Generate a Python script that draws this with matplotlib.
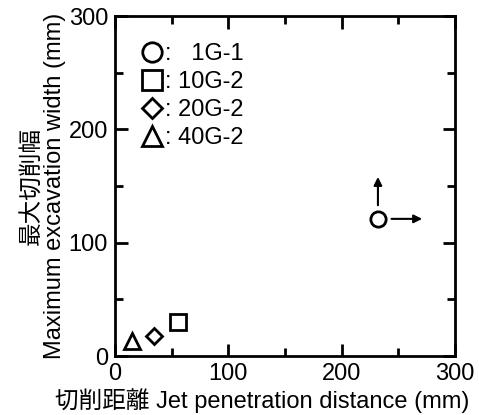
import matplotlib
matplotlib.use("Agg")
import matplotlib.pyplot as plt
from matplotlib.lines import Line2D
from matplotlib.ticker import MultipleLocator

plt.rcParams['font.family'] = ['Liberation Sans', 'Noto Sans CJK JP']

# data
cases = ['1G-1', '10G-2', '20G-2', '40G-2']
legend_labels = [':   1G-1', ': 10G-2', ': 20G-2', ': 40G-2']
markers = ['o', 's', 'D', '^']
penetration = [232, 56, 34, 15]
width = [121, 30, 18, 13]
marker_sizes = [11, 11, 8.5, 11]

fig = plt.figure(figsize=(4.79, 4.15), dpi=100)
ax = fig.add_axes([115/479, 1 - 356/415, 340/479, 340/415])

for x, y, m, ms in zip(penetration, width, markers, marker_sizes):
    ax.plot([x], [y], marker=m, ms=ms, mfc='white', mec='black', mew=2, ls='none')

# arrows from the 1G-1 point (lower bound)
ax.annotate('', xy=(penetration[0], 158), xytext=(penetration[0], 133),
            arrowprops=dict(arrowstyle='-|>', color='black', lw=1.5, mutation_scale=12, shrinkA=0, shrinkB=0))
ax.annotate('', xy=(271, width[0]), xytext=(244, width[0]),
            arrowprops=dict(arrowstyle='-|>', color='black', lw=1.5, mutation_scale=12, shrinkA=0, shrinkB=0))

ax.set_xlim(0, 300)
ax.set_ylim(0, 300)
ax.xaxis.set_major_locator(MultipleLocator(100))
ax.yaxis.set_major_locator(MultipleLocator(100))
ax.xaxis.set_minor_locator(MultipleLocator(50))
ax.yaxis.set_minor_locator(MultipleLocator(50))
ax.tick_params(which='both', direction='in', top=True, right=True, width=2, labelsize=17)
ax.tick_params(which='major', length=9, pad=5)
ax.tick_params(which='minor', length=6)
for s in ax.spines.values():
    s.set_linewidth(2)

handles = [Line2D([], [], marker=m, ms=14, mfc='white', mec='black', mew=2, ls='none') for m in markers]
handles[2] = Line2D([], [], marker='D', ms=10.5, mfc='white', mec='black', mew=2, ls='none')
ax.legend(handles, legend_labels, loc='upper left', bbox_to_anchor=(0.045, 0.955), frameon=False,
          fontsize=17, handlelength=0.8, handletextpad=0.15, labelspacing=0.25, borderpad=0)

ax.set_ylabel('最大切削幅\nMaximum excavation width (mm)', fontsize=17, linespacing=1.0, labelpad=2)
fig.text(262/479, 1 - 401/415, '切削距離 Jet penetration distance (mm)', fontsize=17, ha='center', va='center')

fig.savefig('out.png', dpi=100)
